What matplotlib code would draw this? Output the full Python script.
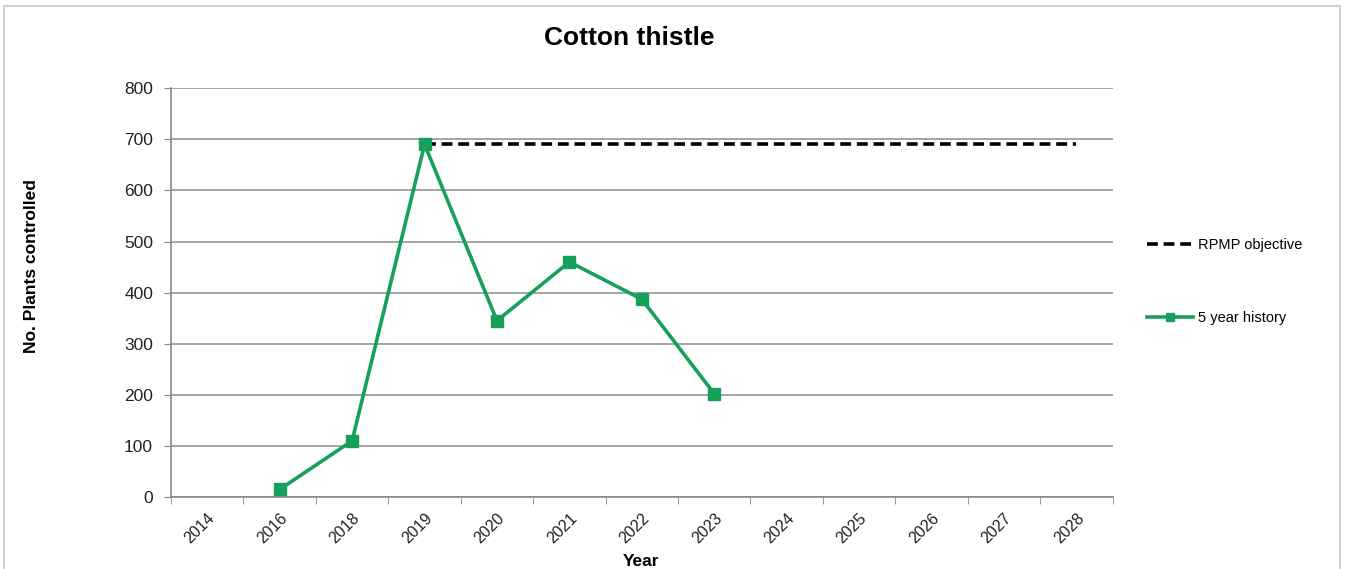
import numpy as np
import matplotlib.pyplot as plt
from matplotlib.lines import Line2D
from matplotlib.patches import Rectangle

plt.rcParams['font.family'] = ['Liberation Sans', 'DejaVu Sans']

# datos
years = ['2014', '2016', '2018', '2019', '2020', '2021', '2022', '2023',
         '2024', '2025', '2026', '2027', '2028']
history = [np.nan, 15, 110, 690, 345, 460, 387, 202,
           np.nan, np.nan, np.nan, np.nan, np.nan]
objective = [np.nan, np.nan, np.nan, 690, 690, 690, 690, 690,
             690, 690, 690, 690, 690]

green = '#17a05c'
x = np.arange(len(years))

fig = plt.figure(figsize=(13.47, 5.69), dpi=100)
ax = fig.add_axes([0.127, 0.1265, 0.699, 0.7185])

ax.plot(x, objective, color='black', linestyle=(0, (3, 1.6)), linewidth=2.6,
        zorder=3)
ax.plot(x, history, color=green, linewidth=2.6, marker='s', markersize=9,
        zorder=4)

ax.set_xlim(-0.5, len(years) - 0.5)
ax.set_ylim(0, 800)
ax.set_yticks(range(0, 801, 100))
ax.set_xticks(x)
ax.set_xticklabels(years, rotation=45, ha='right', rotation_mode='anchor',
                   fontsize=11.5, color='#222222')
ax.set_xticks(np.arange(-0.5, len(years), 1), minor=True)
ax.tick_params(axis='x', which='major', length=0, pad=10)
ax.tick_params(axis='x', which='minor', length=5, color='#888888')
ax.tick_params(axis='y', length=5, color='#888888', labelsize=12.5,
               labelcolor='#222222', pad=8)
ax.grid(axis='y', color='#8c8c8c', linewidth=1.1)
ax.set_axisbelow(True)
for s in ['top', 'right']:
    ax.spines[s].set_visible(False)
for s in ['left', 'bottom']:
    ax.spines[s].set_color('#888888')
    ax.spines[s].set_linewidth(1.2)

fig.text(32 / 1347, 1 - 266 / 569, 'No. Plants controlled', rotation=90,
         ha='center', va='center', fontsize=12.5, fontweight='bold')
fig.text(641 / 1347, 1 - 562 / 569, 'Year', ha='center', va='center',
         fontsize=12.5, fontweight='bold')
fig.text(0.467, 0.934, 'Cotton thistle', ha='center', va='center',
         fontsize=19, fontweight='bold')

handles = [
    Line2D([], [], color='black', linestyle=(0, (3, 1.6)), linewidth=2.6),
    Line2D([], [], color=green, linewidth=2.6, marker='s', markersize=6),
]
fig.legend(handles[:1], ['RPMP objective'], loc='center left',
           bbox_to_anchor=(0.842, 0.569), frameon=False, fontsize=10.5,
           handlelength=3.1, handletextpad=0.35)
fig.legend(handles[1:], ['5 year history'], loc='center left',
           bbox_to_anchor=(0.842, 0.441), frameon=False, fontsize=10.5,
           handlelength=3.1, handletextpad=0.35)

fig.patches.append(Rectangle((0.003, -0.01), 0.992, 1.0, transform=fig.transFigure,
                             fill=False, edgecolor='#c8c8c8', linewidth=1.2))

fig.savefig('out.png', dpi=100)
